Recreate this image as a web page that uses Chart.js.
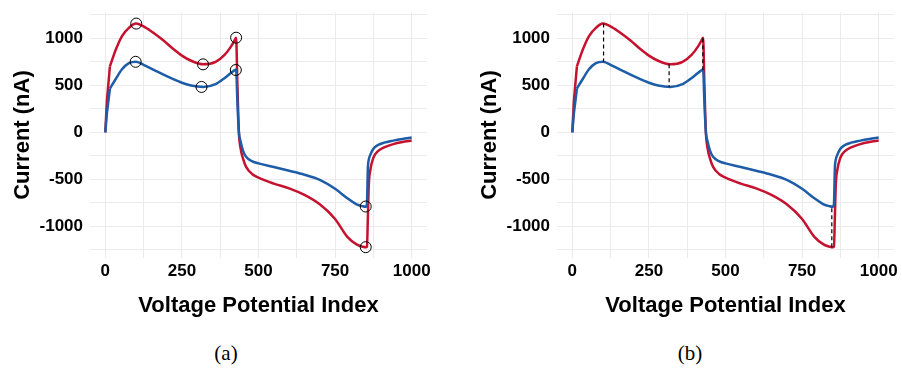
<!DOCTYPE html>
<html>
<head>
<meta charset="utf-8">
<script src="https://cdn.jsdelivr.net/npm/chart.js@4/dist/chart.umd.min.js"></script>
<style>
  body { margin: 0; background: #fff; width: 902px; height: 369px; position: relative; overflow: hidden; }
  .panel { position: absolute; top: 0; width: 435px; height: 330px; }
  .caption { position: absolute; top: 341px; font-family: 'Liberation Serif', serif; font-size: 21px; color: #000; transform: translateX(-50%); }
</style>
</head>
<body>
<div class="panel" style="left:0"><canvas id="chartA" width="435" height="330"></canvas></div>
<div class="panel" style="left:467px"><canvas id="chartB" width="435" height="330"></canvas></div>
<div class="caption" style="left:226px">(a)</div>
<div class="caption" style="left:690px">(b)</div>
<script>
// voltage potential index (x) and the two current traces (nA)
const potentialIndex = [0, 5, 15, 35, 55, 77, 100, 130, 160, 190, 220, 250, 280, 320, 360, 390, 410, 420, 427, 431, 436, 441, 450, 460, 480, 500, 550, 600, 650, 700, 750, 790, 820, 840, 850, 854, 857, 860, 865, 875, 890, 910, 940, 970, 1000];
const redCurrent = [0, 330, 700, 885, 1025, 1110, 1155, 1115, 1050, 975, 890, 815, 760, 722, 748, 825, 910, 965, 1005, 520, 0, -160, -285, -370, -445, -482, -545, -595, -665, -765, -920, -1110, -1190, -1215, -1222, -1215, -900, -560, -400, -270, -200, -160, -125, -103, -88];
const blueCurrent = [0, 200, 465, 572, 672, 735, 750, 708, 660, 612, 567, 527, 497, 482, 512, 578, 630, 655, 668, 330, 0, -90, -200, -262, -308, -330, -368, -408, -450, -505, -600, -700, -765, -785, -790, -760, -380, -290, -240, -175, -135, -110, -88, -70, -55];
// the first few samples form the near-vertical switch-on ramp
const rampEnd = 2;

// feature points marked in panel (a)
const redPeakIdx = [101, 319, 427, 850];
const redPeakVal = [1155, 722, 1005, -1220];
const bluePeakIdx = [99, 314, 426, 850];
const bluePeakVal = [749, 482, 662, -788];

// vertical gaps drawn in panel (b)
const gapIdx = [102, 316, 426, 847];
const gapRed = [1155, 722, 1000, -1222];
const gapBlue = [749, 482, 662, -790];

const RED = '#C4122F';
const BLUE = '#1D5CA7';

Chart.defaults.font.family = "'Liberation Sans', Arial, sans-serif";
Chart.defaults.color = '#000';

function toPoints(xs, ys) {
    return xs.map((x, i) => ({ x: x, y: ys[i] }));
}

function curveDatasets(values, color) {
    const pts = toPoints(potentialIndex, values);
    const base = { borderColor: color, borderWidth: 2.5, pointRadius: 0, fill: false };
    return [
        Object.assign({ data: pts.slice(0, rampEnd + 1), tension: 0 }, base),
        Object.assign({ data: pts.slice(rampEnd), cubicInterpolationMode: 'monotone' }, base)
    ];
}

function markerDataset(xs, ys) {
    return {
        data: toPoints(xs, ys),
        showLine: false,
        pointRadius: 5.5,
        pointBorderWidth: 1,
        pointBorderColor: '#000',
        pointBackgroundColor: 'rgba(0,0,0,0)'
    };
}

function gapDatasets() {
    return gapIdx.map((x, i) => ({
        data: [{ x: x, y: gapRed[i] }, { x: x, y: gapBlue[i] }],
        borderColor: '#000',
        borderWidth: 1.2,
        borderDash: [4, 3],
        pointRadius: 0
    }));
}

function makePanel(id, overlays) {
    new Chart(document.getElementById(id), {
        type: 'line',
        data: {
            datasets: overlays.concat(curveDatasets(blueCurrent, BLUE), curveDatasets(redCurrent, RED))
        },
        options: {
            responsive: false,
            animation: false,
            layout: { padding: { top: 12, right: 8, left: 0, bottom: 0 } },
            plugins: { legend: { display: false }, tooltip: { enabled: false } },
            scales: {
                x: {
                    type: 'linear',
                    min: -50,
                    max: 1050,
                    afterFit: s => { s.height = 72; s.paddingLeft = 0; s.paddingRight = 0; },
                    grid: { color: '#EBEBEB', lineWidth: 1, drawTicks: false },
                    border: { display: false },
                    ticks: {
                        stepSize: 125,
                        includeBounds: false,
                        padding: 3,
                        maxRotation: 0,
                        autoSkip: false,
                        font: { size: 17, weight: 'bold' },
                        callback: v => (v % 250 === 0 ? String(v) : '')
                    },
                    title: {
                        display: true,
                        text: 'Voltage Potential Index',
                        font: { size: 22, weight: 'bold' },
                        padding: { top: 0, bottom: 11 }
                    }
                },
                y: {
                    type: 'linear',
                    min: -1335,
                    max: 1278,
                    afterFit: s => { s.width = 90; s.paddingTop = 0; s.paddingBottom = 0; },
                    grid: { color: '#EBEBEB', lineWidth: 1, drawTicks: false },
                    border: { display: false },
                    ticks: {
                        stepSize: 250,
                        includeBounds: false,
                        padding: 7,
                        autoSkip: false,
                        font: { size: 17, weight: 'bold' },
                        callback: v => (v % 500 === 0 ? String(v) : '')
                    },
                    title: {
                        display: true,
                        text: 'Current (nA)',
                        font: { size: 22, weight: 'bold' },
                        padding: { top: 10, bottom: 0 }
                    }
                }
            }
        }
    });
}

makePanel('chartA', [markerDataset(redPeakIdx, redPeakVal), markerDataset(bluePeakIdx, bluePeakVal)]);
makePanel('chartB', gapDatasets());
</script>
</body>
</html>
